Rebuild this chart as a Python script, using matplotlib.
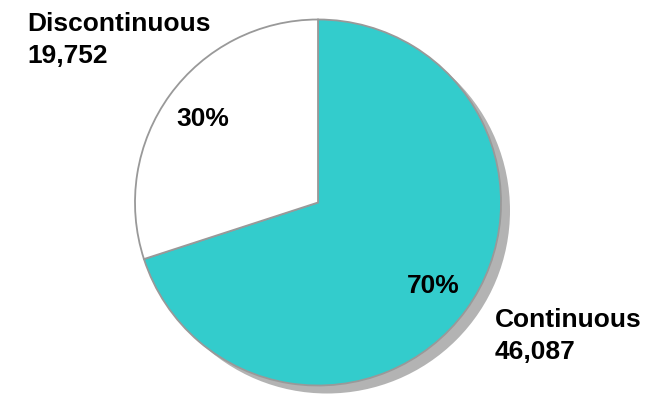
import matplotlib
matplotlib.use("Agg")
import matplotlib.pyplot as plt
from matplotlib.patches import Circle

# data
categories = ["Continuous", "Discontinuous"]
counts = [46087, 19752]
colors = ["#33CCCC", "#FFFFFF"]

plt.rcParams['font.family'] = ['Liberation Sans', 'DejaVu Sans']

W, H = 664, 395
fig = plt.figure(figsize=(W / 100, H / 100), dpi=100)
ax = fig.add_axes([0, 0, 1, 1])

# pie geometry in pixel units (y up)
cx, cy, r = 318, H - 202.5, 183

# drop shadow
ax.add_patch(Circle((cx + 9, cy - 8), r, facecolor="#b3b3b3", edgecolor="none", zorder=0))

wedges, texts, autotexts = ax.pie(
    counts, colors=colors, startangle=90, counterclock=False,
    center=(cx, cy), radius=r, autopct='%.0f%%', pctdistance=0.78,
    wedgeprops=dict(edgecolor="#999999", linewidth=1.3),
    textprops=dict(fontsize=19, fontweight='bold', color='black'))
for w in wedges:
    w.set_zorder(1)
for t in autotexts:
    t.set_zorder(3)

ax.set_xlim(0, W)
ax.set_ylim(0, H)
ax.set_aspect('equal')
ax.axis('off')

# outside category labels: name on first line, count below
label_pos = {"Discontinuous": (27, 31), "Continuous": (495, 327)}
for name, val in zip(categories, counts):
    x, yb = label_pos[name]
    ax.text(x, H - yb, name, fontsize=19, fontweight='bold', va='baseline', ha='left')
    ax.text(x, H - yb - 32, f"{val:,}", fontsize=19, fontweight='bold', va='baseline', ha='left')

fig.savefig("out.png", dpi=100)
